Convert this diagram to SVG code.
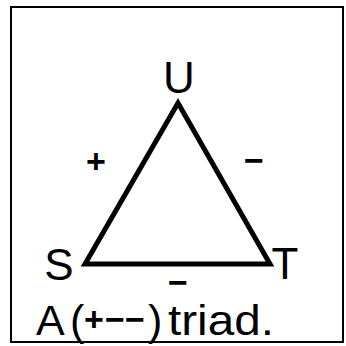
<svg xmlns="http://www.w3.org/2000/svg" width="346" height="346" viewBox="0 0 346 346">
<style>
text{font-family:"Liberation Sans",Arial,sans-serif;fill:#000}
.lbl{font-size:44px}
.sgn{font-size:34px;font-weight:bold}
</style>
<rect width="346" height="346" fill="#fff"/>
<rect x="11" y="7" width="332" height="335" fill="none" stroke="#000" stroke-width="2"/>
<g id="connectors" fill="none" stroke="#000" stroke-width="5" stroke-linejoin="miter">
<path d="M178,103 L85,264 L270,264 Z"/>
</g>
<g id="U"><text class="lbl" x="179" y="93" text-anchor="middle">U</text></g>
<g id="S"><text class="lbl" x="59" y="280" text-anchor="middle">S</text></g>
<g id="T"><text class="lbl" x="285" y="279" text-anchor="middle">T</text></g>
<g id="edge-labels">
<text class="sgn" x="96" y="173" text-anchor="middle">+</text>
<text class="sgn" x="254" y="172" text-anchor="middle">−</text>
<text class="sgn" x="178" y="294" text-anchor="middle">−</text>
</g>
<g id="caption">
<text style="font-size:43px" x="36" y="335">A</text>
<text style="font-size:43px" x="70" y="335">(</text>
<text class="sgn" x="94" y="331" text-anchor="middle">+</text>
<text class="sgn" x="115" y="331" text-anchor="middle">−</text>
<text class="sgn" x="135" y="331" text-anchor="middle">−</text>
<text style="font-size:43px" x="148" y="335">)</text>
<text style="font-size:43px" x="168" y="335" textLength="106" lengthAdjust="spacingAndGlyphs">triad.</text>
</g>
</svg>
